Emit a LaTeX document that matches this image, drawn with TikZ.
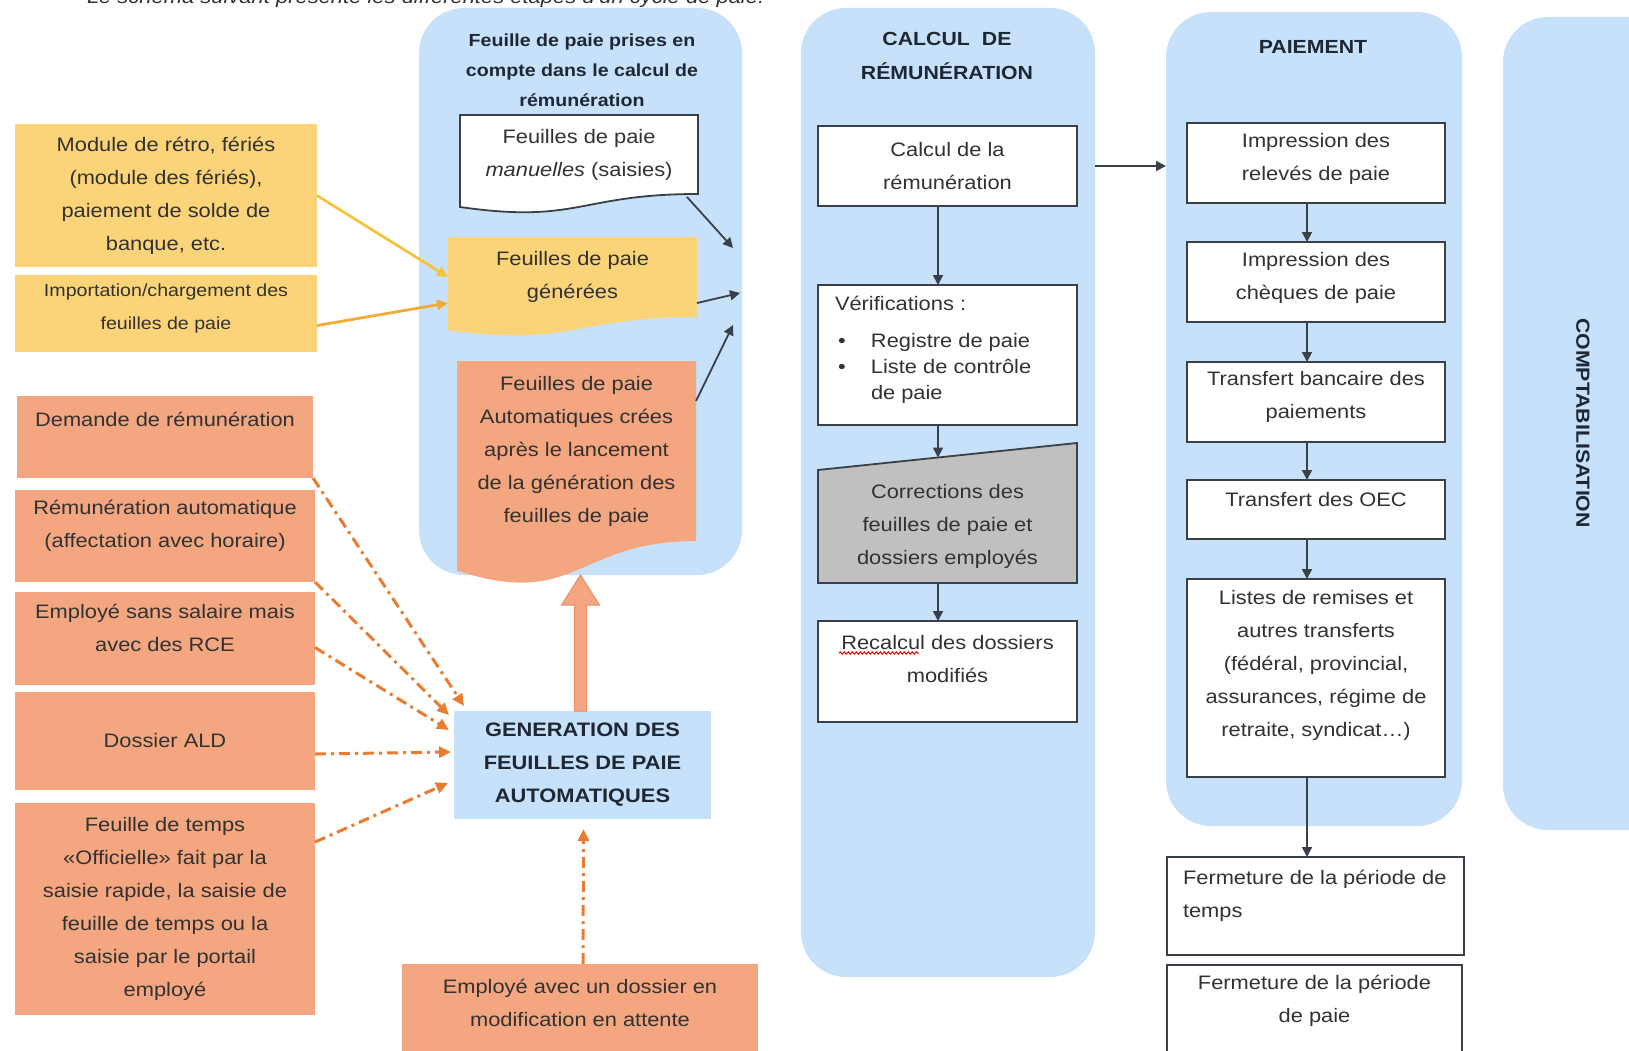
\documentclass[tikz,border=0pt]{standalone}
\usepackage{fontspec}
\setmainfont{Liberation Sans}[FakeStretch=1.12]
\usetikzlibrary{arrows.meta,calc,decorations.pathmorphing}
\definecolor{cblue}{RGB}{200,225,250}
\definecolor{cyel}{RGB}{251,212,122}
\definecolor{corg}{RGB}{243,166,128}
\definecolor{corgd}{RGB}{236,140,100}
\definecolor{cgray}{RGB}{192,192,192}
\definecolor{cline}{RGB}{58,64,72}
\definecolor{ctext}{RGB}{50,50,50}
\definecolor{ctitle}{RGB}{30,40,52}
\definecolor{cdash}{RGB}{232,125,50}
\definecolor{cyline}{RGB}{245,196,60}
\definecolor{cylineb}{RGB}{240,172,55}
\pgfdeclarelayer{bg}
\pgfdeclarelayer{mid}
\pgfsetlayers{bg,mid,main}
\begin{document}
\begin{tikzpicture}[x=1pt,y=-1pt,
  every node/.style={inner sep=0pt, outer sep=0pt, text=ctext},
  fnt/.style={font=\fontsize{19.5}{33}\selectfont},
  txt/.style={fnt, align=center},
  ttl/.style={font=\bfseries\fontsize{19}{34}\selectfont, text=ctitle, align=center},
  swim/.style={fill=cblue, rounded corners=45pt},
  wbox/.style={draw=cline, line width=1.8pt, fill=white},
  ybox/.style={fill=cyel},
  obox/.style={fill=corg},
  gbox/.style={draw=cline, line width=1.8pt, fill=cgray},
  blkarrow/.style={draw=cline, line width=1.8pt, -{Triangle[length=10pt,width=10pt]}},
  ddash/.style={draw=cdash, line width=3pt, dash pattern=on 11pt off 5pt on 3pt off 5pt, -{Triangle[length=12pt,width=11pt]}},
  yarrow/.style={line width=2.8pt, -{Triangle[length=11pt,width=10pt]}},
]
\useasboundingbox (0,0) rectangle (1629,1051);

% top clipped sentence
\node[anchor=base west, font=\itshape\fontsize{19.6}{24}\selectfont, text=ctext] (intro) at (87,4) {Le schéma suivant présente les différentes étapes d'un cycle de paie.};

% ---------- swimlanes ----------
\begin{pgfonlayer}{bg}
\node[swim, minimum width=323pt, minimum height=567pt] (cont1) at (580.5,291.5) {};
\node[swim, minimum width=294pt, minimum height=969pt] (cont2) at (948,492.5) {};
\node[swim, minimum width=296pt, minimum height=814pt] (cont3) at (1314,419) {};
\node[swim, minimum width=197pt, minimum height=813pt] (cont4) at (1601.5,423.5) {};
\end{pgfonlayer}

\node[ttl, font=\bfseries\fontsize{17.5}{30}\selectfont] (t1) at (582,70) {Feuille de paie prises en\\compte dans le calcul de\\rémunération};
\node[ttl] (t2) at (947,55.5) {CALCUL\hspace{12pt}DE\\RÉMUNÉRATION};
\node[ttl] (t3) at (1313,47) {PAIEMENT};
\node[ttl, rotate=-90] (t4) at (1583,423) {COMPTABILISATION};

% ---------- left yellow boxes ----------
\node[ybox, txt, minimum width=302pt, minimum height=143pt] (y1) at (166,195.5) {Module de rétro, fériés\\(module des fériés),\\paiement de solde de\\banque, etc.};
\node[ybox, minimum width=302pt, minimum height=77pt] (y2) at (166,313.5) {};
\node[txt, font=\fontsize{17.5}{33}\selectfont] (y2t) at ([yshift=5pt]y2.center) {Importation/chargement des\\feuilles de paie};

% ---------- left orange boxes ----------
\node[obox, minimum width=296pt, minimum height=82pt] (o1) at (165,437) {};
\node[txt] (o1t) at ([yshift=18pt]o1.center) {Demande de rémunération};
\node[obox, minimum width=300pt, minimum height=92pt] (o2) at (165,536) {};
\node[txt] (o2t) at ([yshift=10pt]o2.center) {Rémunération automatique\\(affectation avec horaire)};
\node[obox, minimum width=300pt, minimum height=93pt] (o3) at (165,638.5) {};
\node[txt] (o3t) at ([yshift=11pt]o3.center) {Employé sans salaire mais\\avec des RCE};
\node[obox, txt, minimum width=300pt, minimum height=98pt] (o4) at (165,741) {Dossier ALD};
\node[obox, txt, minimum width=300pt, minimum height=212pt] (o5) at (165,909) {Feuille de temps\\«Officielle» fait par la\\saisie rapide, la saisie de\\feuille de temps ou la\\saisie par le portail\\employé};

% ---------- documents in lane 1 ----------
\node[txt, minimum width=238pt, minimum height=79pt] (man) at (579,154.5) {Feuilles de paie\\\textit{manuelles} (saisies)};
\node[txt, minimum width=249pt, minimum height=80pt] (gen) at (572.5,277) {Feuilles de paie\\générées};
\node[txt, minimum width=239pt, minimum height=180pt] (aut) at (576.5,451) {Feuilles de paie\\Automatiques crées\\après le lancement\\de la génération des\\feuilles de paie};
\begin{pgfonlayer}{mid}
\path[wbox] (man.north west) -- (man.north east) -- (man.south east)
  .. controls (man.south) and ($(man.north)!1.381!(man.south)$) .. ($(man.north west)!1.1646!(man.south west)$) -- cycle;
\path[ybox] (gen.north west) -- (gen.north east) -- (gen.south east)
  .. controls (gen.south) and ($(gen.north)!1.381!(gen.south)$) .. ($(gen.north west)!1.1646!(gen.south west)$) -- cycle;
\path[obox] (aut.north west) -- (aut.north east) -- (aut.south east)
  .. controls (aut.south) and ($(aut.north)!1.381!(aut.south)$) .. ($(aut.north west)!1.1646!(aut.south west)$) -- cycle;
\end{pgfonlayer}
\coordinate (c1) at (733,248);
\coordinate (c2) at (740,293);
\coordinate (c3) at (733,325);
\draw[blkarrow] ([xshift=-11pt,yshift=-3pt]man.south east) -- (c1);
\draw[blkarrow] ([yshift=-26pt]gen.east) -- (c2);
\draw[blkarrow] ([yshift=50pt]aut.east) -- (c3);

\draw[yarrow, draw=cyline, fill=cyline] (y1.east) -- (gen.west);
\draw[yarrow, draw=cylineb, fill=cylineb] ([yshift=-12pt]y2.east) -- ([yshift=-26pt]gen.west);

% ---------- generation ----------
\node[fill=cblue, minimum width=257pt, minimum height=108pt, align=center, font=\bfseries\fontsize{19.5}{33}\selectfont, text=ctitle] (genA) at (582.5,765) {GENERATION DES\\FEUILLES DE PAIE\\AUTOMATIQUES};
\node[obox, minimum width=356pt, minimum height=101pt] (empA) at (580,1014.5) {};
\node[txt] (empAt) at ([yshift=12pt]empA.center) {Employé avec un dossier en\\modification en attente};

\fill[corg, draw=corgd, line width=1pt]
  ($(genA.north -| cont1.south)+(-6,0)$) -- ($(cont1.south)+(-6,30)$) -- ($(cont1.south)+(-19,30)$) -- (cont1.south)
  -- ($(cont1.south)+(19,30)$) -- ($(cont1.south)+(6,30)$) -- ($(genA.north -| cont1.south)+(6,0)$) -- cycle;

\draw[ddash] (o1.south east) -- ([xshift=10pt,yshift=5pt]genA.north west);
\draw[ddash] (o2.south east) -- ([xshift=-5pt,yshift=-4pt]genA.north west);
\draw[ddash] ([yshift=-9pt]o3.east) -- ([xshift=-5pt,yshift=35pt]genA.west);
\draw[ddash] ([yshift=-13pt]o4.east) -- ([xshift=-3pt,yshift=13pt]genA.west);
\draw[ddash] ([yshift=67pt]o5.east) -- ([xshift=-6pt,yshift=-18pt]genA.west);
\draw[ddash] ([xshift=3pt]empA.north) -- ([xshift=1pt,yshift=-10pt]genA.south);

% ---------- lane 2 ----------
\node[wbox, txt, minimum width=259pt, minimum height=80pt] (calc) at (947.5,166) {Calcul de la\\rémunération};
\node[wbox, minimum width=259pt, minimum height=140pt] (verif) at (947.5,355) {};
\node[anchor=base west, align=left, font=\fontsize{19.5}{26}\selectfont] (veriftxt) at ([xshift=17pt,yshift=-114pt]verif.north west)
  {Vérifications :\\[11pt]\hspace*{3pt}\makebox[33pt][l]{\textbullet}Registre de paie\\\hspace*{3pt}\makebox[33pt][l]{\textbullet}Liste de contrôle\\\hspace*{36pt}de paie};
\node[txt, minimum width=259pt, minimum height=113pt] (corr) at (947.5,526.5) {Corrections des\\feuilles de paie et\\dossiers employés};
\begin{pgfonlayer}{mid}
\path[gbox] (corr.north west) -- ([yshift=27pt]corr.north east) -- (corr.south east) -- (corr.south west) -- cycle;
\end{pgfonlayer}
\node[wbox, minimum width=259pt, minimum height=101pt] (recalc) at (947.5,671.5) {};
\node[txt] (recalct) at ([yshift=12pt]recalc.center) {Recalcul des dossiers\\modifiés};
\draw[red!85!black, line width=1pt, decorate, decoration={snake, amplitude=1.1pt, segment length=4pt}] (839,653) -- (919,653);

\draw[blkarrow] ([xshift=-9.5pt]calc.south) -- ([xshift=-9.5pt]verif.north);
\draw[blkarrow] ([xshift=-9.5pt]verif.south) -- ([xshift=-9.5pt,yshift=12.5pt]corr.north);
\draw[blkarrow] ([xshift=-9.5pt]corr.south) -- ([xshift=-9.5pt]recalc.north);

% ---------- lane 3 ----------
\node[wbox, minimum width=258pt, minimum height=80pt] (rel) at (1316,163) {};
\node[txt] (relt) at ([yshift=4pt]rel.center) {Impression des\\relevés de paie};
\node[wbox, minimum width=258pt, minimum height=80pt] (chq) at (1316,282) {};
\node[txt] (chqt) at ([yshift=4pt]chq.center) {Impression des\\chèques de paie};
\node[wbox, minimum width=258pt, minimum height=80pt] (banc) at (1316,402) {};
\node[txt] (banct) at ([yshift=5pt]banc.center) {Transfert bancaire des\\paiements};
\node[wbox, minimum width=258pt, minimum height=59pt] (oec) at (1316,509.5) {};
\node[txt] (oect) at ([yshift=9.5pt]oec.center) {Transfert des OEC};
\node[wbox, minimum width=258pt, minimum height=198pt] (list) at (1316,678) {};
\node[txt] (listt) at ([yshift=13pt]list.center) {Listes de remises et\\autres transferts\\(fédéral, provincial,\\assurances, régime de\\retraite, syndicat…)};
\node[wbox, minimum width=297pt, minimum height=98pt] (ftp) at (1315.5,906) {};
\node[anchor=base west, align=left, fnt] (ftpt) at ([xshift=16pt,yshift=-60pt]ftp.north west) {Fermeture de la période de\\temps};
\node[wbox, minimum width=295pt, minimum height=100pt] (fpp) at (1314.5,1015) {};
\node[txt] (fppt) at ([yshift=14pt]fpp.center) {Fermeture de la période\\de paie};

\draw[blkarrow] (calc.east -| cont2.east) -- (calc.east -| cont3.west);
\draw[blkarrow] ([xshift=-9pt]rel.south) -- ([xshift=-9pt]chq.north);
\draw[blkarrow] ([xshift=-9pt]chq.south) -- ([xshift=-9pt]banc.north);
\draw[blkarrow] ([xshift=-9pt]banc.south) -- ([xshift=-9pt]oec.north);
\draw[blkarrow] ([xshift=-9pt]oec.south) -- ([xshift=-9pt]list.north);
\draw[blkarrow] ([xshift=-9pt]list.south) -- ([xshift=-9pt]list.south |- ftp.north);
\end{tikzpicture}
\end{document}
